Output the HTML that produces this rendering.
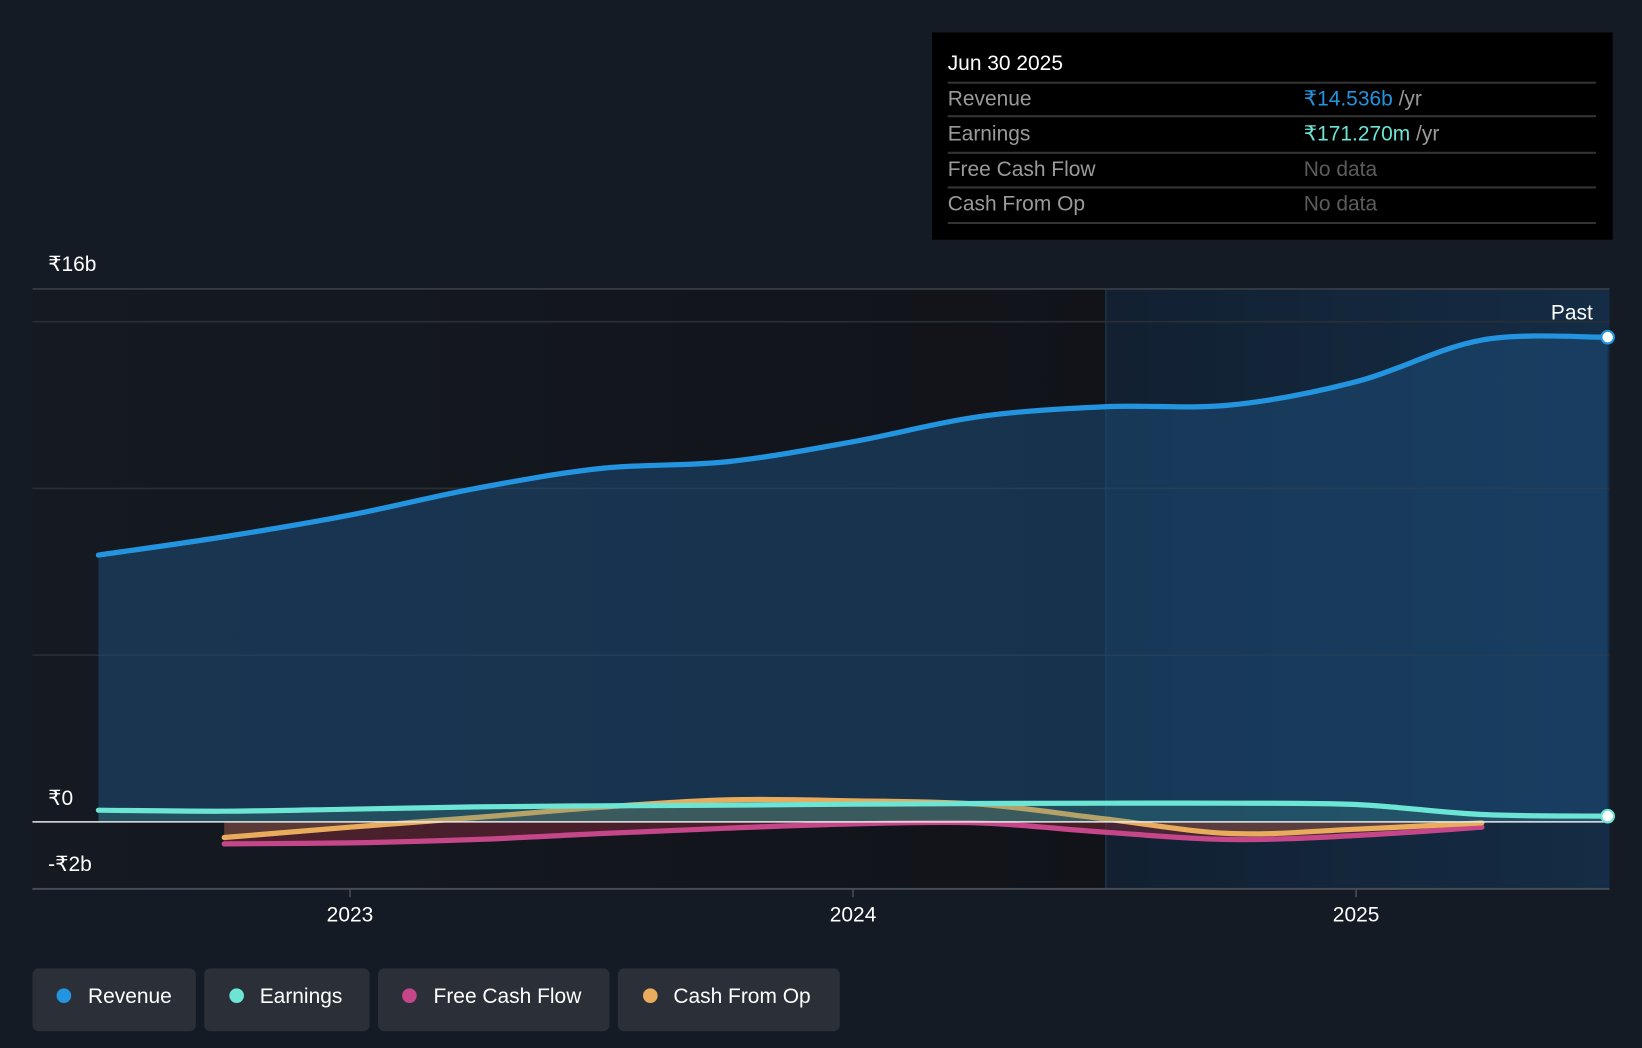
<!DOCTYPE html>
<html><head><meta charset="utf-8"><style>
html,body{margin:0;padding:0;background:#151b24;width:1642px;height:1048px;overflow:hidden}
svg{display:block;font-family:"Liberation Sans",sans-serif}
</style></head><body>
<svg id="chart" width="1642" height="1048" viewBox="0 0 1568 1001" preserveAspectRatio="none">
<defs>
<linearGradient id="leftBg" x1="0" x2="1" y1="0" y2="0"><stop offset="0" stop-color="#151a22"/><stop offset="1" stop-color="#111319"/></linearGradient>
<linearGradient id="rightBg" x1="0" x2="1" y1="0" y2="0"><stop offset="0" stop-color="#122031"/><stop offset="1" stop-color="#142c45"/></linearGradient>
</defs>
<rect x="0" y="0" width="1568" height="1001" fill="#151b24"/>
<rect x="31" y="276" width="1025" height="573" fill="url(#leftBg)"/>
<rect x="1056" y="276" width="481" height="573" fill="url(#rightBg)"/>
<line x1="1056" y1="276" x2="1056" y2="849" stroke="#1d3246" stroke-width="1.5"/>
<g id="grid"></g>
<g id="series"></g>
<g id="axis"></g>
<text x="1521" y="305" fill="#fff" font-size="20" text-anchor="end">Past</text>
<g>
<rect x="890" y="31" width="650" height="198" fill="#000"/>
<text x="905" y="67" fill="#fff" font-size="20">Jun 30 2025</text>
<line x1="905" y1="79" x2="1524" y2="79" stroke="#333" stroke-width="2"/>
<text x="905" y="101" fill="#9a9a9a" font-size="20">Revenue</text>
<text x="1245" y="101" font-size="20"><tspan fill="#2394df">₹14.536b</tspan><tspan fill="#9a9a9a"> /yr</tspan></text>
<line x1="905" y1="111" x2="1524" y2="111" stroke="#333" stroke-width="2"/>
<text x="905" y="134" fill="#9a9a9a" font-size="20">Earnings</text>
<text x="1245" y="134" font-size="20"><tspan fill="#6ce5d4">₹171.270m</tspan><tspan fill="#9a9a9a"> /yr</tspan></text>
<line x1="905" y1="146" x2="1524" y2="146" stroke="#333" stroke-width="2"/>
<text x="905" y="168" fill="#9a9a9a" font-size="20">Free Cash Flow</text>
<text x="1245" y="168" fill="#5c5c5c" font-size="20">No data</text>
<line x1="905" y1="179" x2="1524" y2="179" stroke="#333" stroke-width="2"/>
<text x="905" y="201" fill="#9a9a9a" font-size="20">Cash From Op</text>
<text x="1245" y="201" fill="#5c5c5c" font-size="20">No data</text>
<line x1="905" y1="213" x2="1524" y2="213" stroke="#333" stroke-width="2"/>
</g>
<g>
<g><rect x="31" y="925" width="156" height="60" rx="6" fill="#2a2f38"/><circle cx="61" cy="951" r="7" fill="#2394df"/><text x="84" y="958" fill="#fff" font-size="20">Revenue</text></g>
<g><rect x="195" y="925" width="158" height="60" rx="6" fill="#2a2f38"/><circle cx="226" cy="951" r="7" fill="#6ce5d4"/><text x="248" y="958" fill="#fff" font-size="20">Earnings</text></g>
<g><rect x="361" y="925" width="221" height="60" rx="6" fill="#2a2f38"/><circle cx="391" cy="951" r="7" fill="#c5478a"/><text x="414" y="958" fill="#fff" font-size="20">Free Cash Flow</text></g>
<g><rect x="590" y="925" width="212" height="60" rx="6" fill="#2a2f38"/><circle cx="621" cy="951" r="7" fill="#e8ac5c"/><text x="643" y="958" fill="#fff" font-size="20">Cash From Op</text></g>
</g>
</svg>
<script>
// quarter index: 0 = Jun 2022 ... 12 = Jun 2025
const quarters = [0,1,2,3,4,5,6,7,8,9,10,11,12];
const revenue = [8.0,8.55,9.2,10.0,10.6,10.8,11.4,12.15,12.45,12.5,13.2,14.45,14.536];
const earnings = [0.35,0.32,0.38,0.45,0.48,0.5,0.53,0.55,0.56,0.56,0.52,0.22,0.171];
const fcfQuarters = [1,2,3,4,5,6,7,8,9,10,11];
const fcf = [-0.66,-0.63,-0.53,-0.35,-0.19,-0.06,-0.03,-0.31,-0.53,-0.41,-0.16];
const cfo = [-0.47,-0.16,0.13,0.44,0.66,0.63,0.53,0.09,-0.35,-0.22,-0.03];
const gridValues = [0,5,10,15];
const yearTicks = [2023,2024,2025];
const yearQuarter = [2,6,10];

const NS = "http://www.w3.org/2000/svg";
const x = q => 94 + q * 120.1;
const y = v => 785 - v * 31.85;

function mk(tag, attrs, parent){const e=document.createElementNS(NS,tag);for(const k in attrs)e.setAttribute(k,attrs[k]);parent.appendChild(e);return e;}

function smooth(pts){
  let d = "M"+pts[0][0]+","+pts[0][1];
  for(let i=0;i<pts.length-1;i++){
    const p0=pts[i-1]||pts[i], p1=pts[i], p2=pts[i+1], p3=pts[i+2]||p2;
    const c1x=p1[0]+(p2[0]-p0[0])/6, c1y=p1[1]+(p2[1]-p0[1])/6;
    const c2x=p2[0]-(p3[0]-p1[0])/6, c2y=p2[1]-(p3[1]-p1[1])/6;
    d += " C"+c1x+","+c1y+" "+c2x+","+c2y+" "+p2[0]+","+p2[1];
  }
  return d;
}

const grid = document.getElementById('grid');
const gTop = mk('line',{x1:31,y1:276,x2:1537,y2:276,stroke:'#3a3f47','stroke-width':1.5},grid);


gridValues.forEach(v=>{
  if(v===0) return;
  const l = mk('line',{x1:31,y1:y(v),x2:1537,y2:y(v),stroke:'#2a2f37','stroke-width':1.5},grid);
  
  
});

const series = document.getElementById('series');
function drawSeries(qs, vals, color, fillColor, fillOp, name){
  const pts = qs.map((q,i)=>[x(q), y(vals[i])]);
  const line = smooth(pts);
  const area = line + " L"+pts[pts.length-1][0]+","+y(0)+" L"+pts[0][0]+","+y(0)+" Z";
  const a = mk('path',{d:area,fill:fillColor,'fill-opacity':fillOp},series);
  
  
  const p = mk('path',{d:line,fill:'none',stroke:color,'stroke-width':5,'stroke-linecap':'round'},series);
  
  
}
drawSeries(quarters, revenue, '#2394df', '#1d4d78', 0.55, 'revenue');
drawSeries(fcfQuarters, fcf, '#c5478a', '#8a2a3c', 0.45, 'free-cash-flow');
drawSeries(fcfQuarters, cfo, '#e8ac5c', '#7a6a4a', 0.35, 'cash-from-op');
drawSeries(quarters, earnings, '#6ce5d4', '#3a8a85', 0.3, 'earnings');

const zero = mk('line',{x1:31,y1:y(0),x2:1537,y2:y(0),stroke:'#e8e8e8','stroke-width':1.5},series);



const rd = mk('circle',{cx:x(12),cy:y(revenue[12]),r:6,fill:'#fff',stroke:'#2394df','stroke-width':2},series);


const ed = mk('circle',{cx:x(12),cy:y(earnings[12]),r:6,fill:'#fff',stroke:'#6ce5d4','stroke-width':2},series);



const axis = document.getElementById('axis');
const base = mk('line',{x1:31,y1:849,x2:1537,y2:849,stroke:'#474c55','stroke-width':2},axis);


yearTicks.forEach((yr,i)=>{
  const tx = x(yearQuarter[i]);
  const t = mk('line',{x1:tx,y1:849,x2:tx,y2:857,stroke:'#474c55','stroke-width':1.5},axis);
  
  
  const lb = mk('text',{x:tx,y:880,fill:'#fff','font-size':20,'text-anchor':'middle'},axis);
  lb.textContent = yr;
  
  
});
const yLabels = [['₹16b',16,259],['₹0',0,769],['-₹2b',-2,832]];
yLabels.forEach(l=>{
  const t = mk('text',{x:46,y:l[2],fill:'#fff','font-size':20},axis);
  t.textContent = l[0];
  
  
});
</script>
</body></html>
